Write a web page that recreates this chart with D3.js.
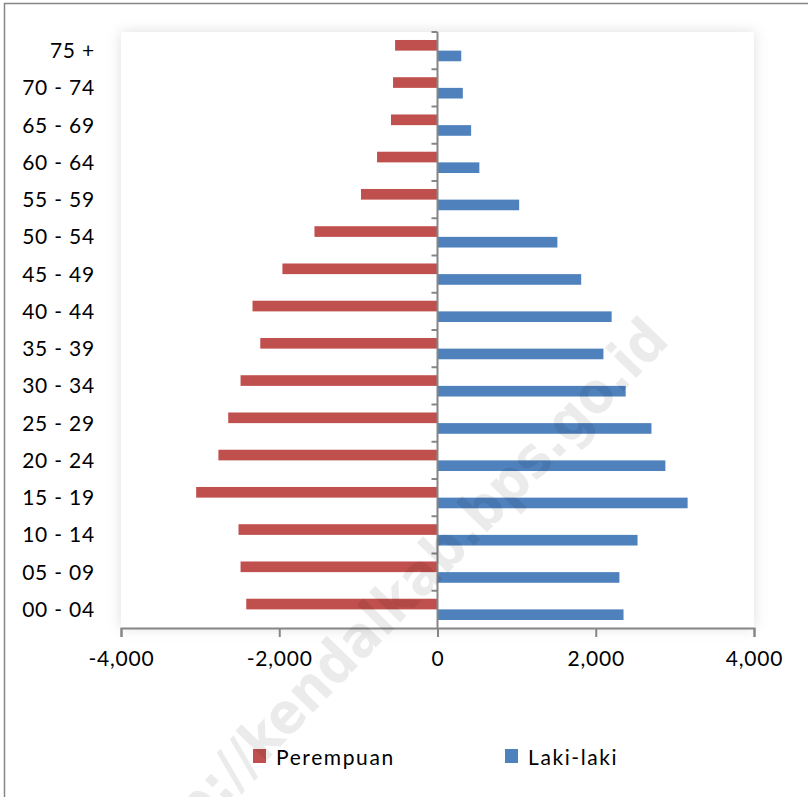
<!DOCTYPE html>
<html>
<head>
<meta charset="utf-8">
<script src="https://cdn.jsdelivr.net/npm/d3@7/dist/d3.min.js"></script>
<style>
html,body{margin:0;padding:0;background:#fff;}
svg{display:block;}
text{font-family:Lato,"Open Sans",sans-serif;fill:#000;}
</style>
</head>
<body>
<svg id="chart" width="808" height="797"></svg>
<script>
// ---- data ----
const categories = ["75 +","70 - 74","65 - 69","60 - 64","55 - 59","50 - 54","45 - 49","40 - 44","35 - 39","30 - 34","25 - 29","20 - 24","15 - 19","10 - 14","05 - 09","00 - 04"];
const perempuan = [536,562,588,764,967,1555,1960,2338,2240,2489,2645,2769,3050,2515,2489,2417];
const lakilaki  = [300,320,425,529,1032,1515,1816,2201,2097,2378,2704,2880,3161,2528,2299,2351];
const xTicks = [-4000,-2000,0,2000,4000];
const xTickLabels = ["-4,000","-2,000","0","2,000","4,000"];
const seriesNames = ["Perempuan","Laki-laki"];
const seriesColors = ["#C0504D","#4F81BD"];
const watermark = "http://kendalkab.bps.go.id";

// ---- layout ----
const W = 808, H = 797;
const plot = {left:121, right:754, top:32, bottom:628};
const axisColor = "#868686";

const svg = d3.select("#chart");
svg.append("rect").attr("width",W).attr("height",H).attr("fill","#fff");
svg.append("rect").attr("x",4.5).attr("y",3.5).attr("width",W+20).attr("height",H+20)
  .attr("fill","#fff").attr("stroke",axisColor).attr("stroke-width",1.5);

const defs = svg.append("defs");
const f = defs.append("filter").attr("id","shadow").attr("x","-10%").attr("y","-10%").attr("width","120%").attr("height","120%");
f.append("feDropShadow").attr("dx",0).attr("dy",0).attr("stdDeviation",7)
  .attr("flood-color","#000").attr("flood-opacity",0.13);

svg.append("rect").attr("x",plot.left).attr("y",plot.top)
  .attr("width",plot.right-plot.left).attr("height",plot.bottom-plot.top)
  .attr("fill","#fff").attr("filter","url(#shadow)");

const x = d3.scaleLinear().domain([-4000,4000]).range([plot.left,plot.right]);
const y = d3.scaleBand().domain(categories).range([plot.top,plot.bottom]).padding(0);
const bw = y.bandwidth();
const gap = 1.5; // excel gap width 150%
const barH = bw/(2+gap);
const off = bw*gap/2/(2+gap);

const rows = categories.map((c,i)=>({c, p:perempuan[i], l:lakilaki[i]}));

// bars
svg.append("g").selectAll("rect").data(rows).join("rect")
  .attr("x",d=>x(-d.p)).attr("y",d=>y(d.c)+off)
  .attr("width",d=>x(0)-x(-d.p)).attr("height",barH)
  .attr("fill",seriesColors[0]);
svg.append("g").selectAll("rect").data(rows).join("rect")
  .attr("x",x(0)).attr("y",d=>y(d.c)+off+barH)
  .attr("width",d=>x(d.l)-x(0)).attr("height",barH)
  .attr("fill",seriesColors[1]);

// vertical axis at 0
const gv = svg.append("g");
gv.append("line").attr("x1",x(0)).attr("x2",x(0)).attr("y1",plot.top).attr("y2",plot.bottom)
  .attr("stroke",axisColor).attr("stroke-width",2);
const bounds = categories.map(c=>y(c));
gv.selectAll("line.t").data(bounds).join("line").attr("class","t")
  .attr("x1",x(0)-6).attr("x2",x(0)).attr("y1",d=>d).attr("y2",d=>d)
  .attr("stroke",axisColor).attr("stroke-width",2);

// category labels
svg.append("g").selectAll("text").data(categories).join("text")
  .attr("x",95).attr("y",d=>y(d)+bw/2).attr("dy","0.36em")
  .attr("text-anchor","end").style("font-size","21px").style("letter-spacing","0.8px")
  .text(d=>d);

// horizontal axis
const gx = svg.append("g").attr("transform",`translate(0,${plot.bottom})`)
  .call(d3.axisBottom(x).tickValues(xTicks).tickSize(9).tickFormat((d,i)=>xTickLabels[i]));
gx.select(".domain").attr("stroke",axisColor).attr("stroke-width",2);
gx.selectAll(".tick line").attr("stroke",axisColor).attr("stroke-width",2);
gx.selectAll(".tick text").attr("y",38).attr("dy",0)
  .style("font-size","21px").style("font-family","Lato,sans-serif").style("letter-spacing","0.8px").attr("fill","#000");

// legend
const legendX = [253,505];
const lg = svg.append("g");
seriesNames.forEach((n,i)=>{
  lg.append("rect").attr("x",legendX[i]).attr("y",749).attr("width",13).attr("height",14).attr("fill",seriesColors[i]);
  lg.append("text").attr("x",legendX[i]+23).attr("y",765).style("font-size","21px")
    .style("letter-spacing","1.6px").text(n);
});

// watermark
svg.append("text").attr("transform","translate(671,342) rotate(-46)")
  .attr("text-anchor","end")
  .style("font-family","'DejaVu Sans Condensed','DejaVu Sans',sans-serif").style("font-weight","bold").style("font-size","57px")
  .style("fill","#000").style("fill-opacity",0.08).text(watermark);
</script>
</body>
</html>
